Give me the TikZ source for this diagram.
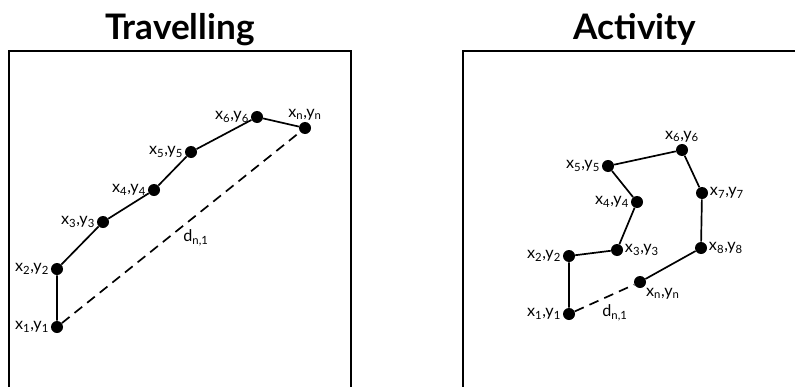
\documentclass[tikz,border=0pt]{standalone}
\usepackage{fontspec}
\setmainfont{Lato}
\newcommand{\ptlbl}[1]{x\textsubscript{#1},y\textsubscript{#1}}
\begin{document}
\begin{tikzpicture}[x=0.025cm, y=-0.025cm,
    dot/.style={circle, fill=black, inner sep=0pt, minimum size=0.3cm},
    lbl/.style={font=\fontsize{11.5}{13}\selectfont, inner sep=1pt},
    trail/.style={line width=1.2pt},
    shortcut/.style={line width=1.2pt, dash pattern=on 7pt off 4.5pt},
    frame/.style={line width=1.4pt},
    title/.style={font=\fontsize{25}{29}\selectfont\bfseries, anchor=base}]
    % Canvas
    \useasboundingbox (0,0) rectangle (795,387);
    \clip (0,0) rectangle (795,387);

    % Titles
    \node[title] (ttravel) at (180,40) {Travelling};
    \node[title] (tactive) at (635,40) {Activity};

    % Frames
    \draw[frame] (9,395) -- (9,51) -- (351,51) -- (351,395);
    \draw[frame] (800,51) -- (463,51) -- (463,395);

    % Travelling track
    \node[dot, label={[lbl]left:\ptlbl{1}}] (t1) at (57,327) {};
    \node[dot, label={[lbl]left:\ptlbl{2}}] (t2) at (57,269) {};
    \node[dot, label={[lbl]left:\ptlbl{3}}] (t3) at (103,222) {};
    \node[dot, label={[lbl]left:\ptlbl{4}}] (t4) at (154,190) {};
    \node[dot, label={[lbl]left:\ptlbl{5}}] (t5) at (191,152) {};
    \node[dot, label={[lbl]left:\ptlbl{6}}] (t6) at (257,117) {};
    \node[dot, label={[lbl]above:\ptlbl{n}}] (tn) at (305,128) {};
    \draw[trail] (t1) -- (t2) -- (t3) -- (t4) -- (t5) -- (t6) -- (tn);
    \draw[shortcut] (t1) -- (tn);
    \node[lbl] (tdist) at (196,238) {d\textsubscript{n,1}};

    % Activity track
    \node[dot, label={[lbl]left:\ptlbl{1}}] (a1) at (569,314) {};
    \node[dot, label={[lbl]left:\ptlbl{2}}] (a2) at (569,256) {};
    \node[dot, label={[lbl]right:\ptlbl{3}}] (a3) at (617,250) {};
    \node[dot, label={[lbl]left:\ptlbl{4}}] (a4) at (637,202) {};
    \node[dot, label={[lbl]left:\ptlbl{5}}] (a5) at (608,166) {};
    \node[dot, label={[lbl]above:\ptlbl{6}}] (a6) at (682,150) {};
    \node[dot, label={[lbl]right:\ptlbl{7}}] (a7) at (702,193) {};
    \node[dot, label={[lbl]right:\ptlbl{8}}] (a8) at (701,248) {};
    \node[dot, label={[lbl]below right:\ptlbl{n}}] (an) at (640,282) {};
    \draw[trail] (a1) -- (a2) -- (a3) -- (a4) -- (a5) -- (a6) -- (a7) -- (a8) -- (an);
    \draw[shortcut] (a1) -- (an);
    \node[lbl] (adist) at (615,313) {d\textsubscript{n,1}};
\end{tikzpicture}
\end{document}
